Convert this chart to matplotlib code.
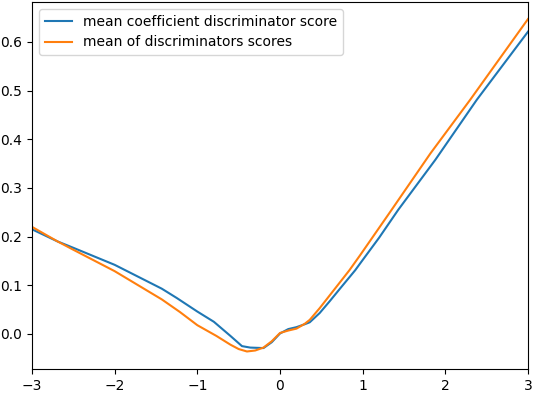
import matplotlib
matplotlib.use("Agg")
import matplotlib.pyplot as plt

x_coef = [-3.0, -2.69, -2.5, -2.0, -1.43, -1.25, -1.0, -0.8, -0.6, -0.46, -0.36, -0.2, -0.1,
          0.0, 0.1, 0.2, 0.3, 0.36, 0.48, 0.6, 0.73, 0.91, 0.97, 1.2, 1.43, 1.88, 2.38, 3.0]
y_coef = [0.215, 0.190, 0.177, 0.142, 0.093, 0.074, 0.046, 0.025, -0.004, -0.025, -0.028, -0.029, -0.017,
          0.001, 0.010, 0.014, 0.020, 0.024, 0.043, 0.067, 0.094, 0.131, 0.145, 0.198, 0.255, 0.358, 0.481, 0.621]

x_mean = [-3.0, -2.69, -2.5, -2.0, -1.43, -1.21, -1.0, -0.77, -0.6, -0.5, -0.4, -0.3, -0.2, -0.1,
          0.0, 0.1, 0.2, 0.3, 0.36, 0.48, 0.6, 0.84, 0.97, 1.35, 1.82, 2.3, 3.0]
y_mean = [0.220, 0.190, 0.173, 0.129, 0.071, 0.045, 0.018, -0.004, -0.022, -0.031, -0.036, -0.034, -0.028, -0.015,
          0.002, 0.007, 0.011, 0.021, 0.029, 0.053, 0.079, 0.131, 0.162, 0.255, 0.371, 0.481, 0.647]

labels = ["mean coefficient discriminator score", "mean of discriminators scores"]

fig = plt.figure(figsize=(5.33, 3.95), dpi=100)
ax = fig.add_axes([32/533, (395-369)/395, 496/533, 367/395])
ax.plot(x_coef, y_coef, label=labels[0])
ax.plot(x_mean, y_mean, label=labels[1])
ax.set_xlim(-3, 3)
ax.set_ylim(-0.072, 0.682)
ax.set_xticks([-3, -2, -1, 0, 1, 2, 3])
ax.set_yticks([0.0, 0.1, 0.2, 0.3, 0.4, 0.5, 0.6])
ax.legend(loc="upper left")
fig.savefig("out.png", dpi=100)
